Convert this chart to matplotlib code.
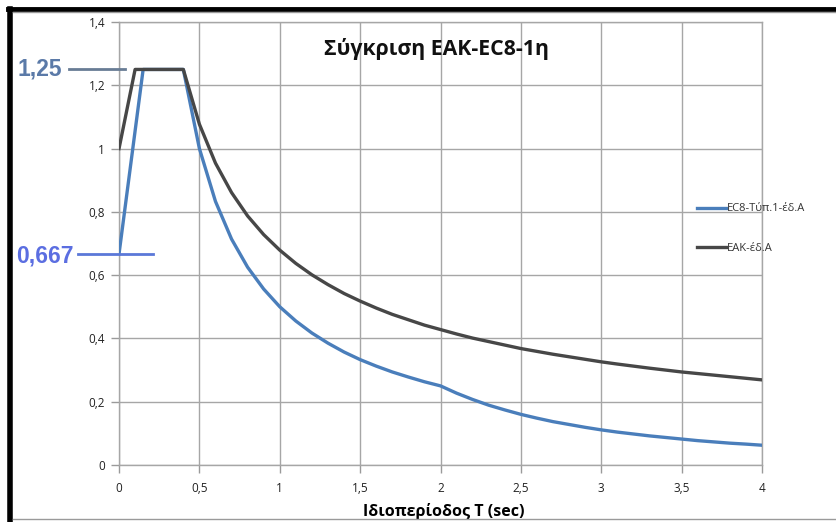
import matplotlib.pyplot as plt
from matplotlib.lines import Line2D

plt.rcParams['font.family'] = ['Open Sans', 'DejaVu Sans']

# Period T (sec)
T_eak = [0.0, 0.1, 0.4, 0.5, 0.6, 0.7, 0.8, 0.9, 1.0, 1.1, 1.2, 1.3, 1.4, 1.5,
         1.6, 1.7, 1.8, 1.9, 2.0, 2.1, 2.2, 2.3, 2.4, 2.5, 2.6, 2.7, 2.8,
         2.9, 3.0, 3.1, 3.2, 3.3, 3.4, 3.5, 3.6, 3.7, 3.8, 3.9, 4.0]
# ΕΑΚ ground A
S_eak = [1.0, 1.25, 1.25, 1.077, 0.954, 0.861, 0.787, 0.728, 0.679, 0.637,
         0.601, 0.570, 0.542, 0.518, 0.496, 0.476, 0.459, 0.442, 0.428,
         0.414, 0.401, 0.390, 0.379, 0.368, 0.359, 0.350, 0.342, 0.334,
         0.326, 0.319, 0.3125, 0.306, 0.300, 0.294, 0.289, 0.284, 0.279,
         0.274, 0.269]

T_ec8 = [0.0, 0.15, 0.4, 0.5, 0.6, 0.7, 0.8, 0.9, 1.0, 1.1, 1.2, 1.3, 1.4, 1.5,
         1.6, 1.7, 1.8, 1.9, 2.0, 2.1, 2.2, 2.3, 2.4, 2.5, 2.6, 2.7, 2.8,
         2.9, 3.0, 3.1, 3.2, 3.3, 3.4, 3.5, 3.6, 3.7, 3.8, 3.9, 4.0]
# EC8 type 1 ground A
S_ec8 = [0.667, 1.25, 1.25, 1.0, 0.833, 0.714, 0.625, 0.556, 0.5, 0.455,
         0.417, 0.385, 0.357, 0.333, 0.3125, 0.294, 0.278, 0.263, 0.25,
         0.227, 0.207, 0.189, 0.174, 0.16, 0.148, 0.137, 0.128, 0.119,
         0.111, 0.104, 0.098, 0.092, 0.087, 0.082, 0.077, 0.073, 0.069,
         0.066, 0.0625]

x_ticks = [0, 0.5, 1, 1.5, 2, 2.5, 3, 3.5, 4]
y_ticks = [0, 0.2, 0.4, 0.6, 0.8, 1.0, 1.2, 1.4]

plateau = 1.25
s0_ec8 = 0.667

fig = plt.figure(figsize=(8.37, 5.22), dpi=100)
ax = fig.add_axes([0.1422, 0.1092, 0.7682, 0.8487])

ax.plot(T_ec8, S_ec8, color='#4a7ebb', lw=2.4, label='EC8-Τύπ.1-έδ.Α', zorder=3)
ax.plot(T_eak, S_eak, color='#474747', lw=2.4, label='ΕΑΚ-έδ.Α', zorder=3)

ax.set_xlim(0, 4)
ax.set_ylim(0, 1.4)
ax.set_xticks(x_ticks)
ax.set_yticks(y_ticks)
fmt = lambda v: ('%g' % v).replace('.', ',')
ax.set_xticklabels([fmt(v) for v in x_ticks])
ax.set_yticklabels([fmt(v) for v in y_ticks])
ax.tick_params(axis='both', labelsize=8.5, colors='#9a9a9a', labelcolor='#222222',
               length=6, width=1)
ax.tick_params(axis='x', pad=6)
ax.tick_params(axis='y', pad=4)
ax.grid(True, color='#a6a6a6', lw=1)
for s in ax.spines.values():
    s.set_color('#a6a6a6')
    s.set_linewidth(1)

ax.set_xlabel('Ιδιοπερίοδος T (sec)', fontsize=11.5, fontweight='bold', labelpad=0)
ax.xaxis.set_label_coords(0.505, -0.085)
ax.text(0.494, 0.94, 'Σύγκριση ΕΑΚ-EC8-1η', transform=ax.transAxes, ha='center',
        va='center', fontsize=15.3, fontweight='bold', color='#111111')

# marker lines and values for the plateau and the T=0 ordinate
ax.plot([-0.31, 0.04], [plateau, plateau], color='#687c95', lw=2, clip_on=False, zorder=4)
ax.text(-0.355, plateau, fmt(plateau), ha='right', va='center', fontsize=16.5,
        fontweight='bold', color='#5b7aa8', family=['Liberation Sans', 'DejaVu Sans'])
ax.plot([-0.255, 0.21], [s0_ec8, s0_ec8], color='#5b78d8', lw=2, clip_on=False, zorder=4)
ax.text(-0.285, s0_ec8 - 0.008, fmt(s0_ec8), ha='right', va='center', fontsize=16.5,
        fontweight='bold', color='#5b6ee1', family=['Liberation Sans', 'DejaVu Sans'])

leg = ax.legend(loc='center left', bbox_to_anchor=(0.883, 0.533), frameon=False,
                fontsize=8, handlelength=2.6, handletextpad=0.1, labelspacing=2.6)
for t in leg.get_texts():
    t.set_color('#333333')

# outer frame
fig.add_artist(Line2D([0.0096, 1.0], [0.9837, 0.9837], color='black', lw=3.5,
                      transform=fig.transFigure))
fig.add_artist(Line2D([0.0125, 0.0125], [0.0, 0.9837], color='black', lw=4,
                      transform=fig.transFigure))
fig.add_artist(Line2D([0.015, 1.0], [0.977, 0.977], color='#9a9a9a', lw=1,
                      transform=fig.transFigure))
fig.add_artist(Line2D([0.015, 1.0], [0.0058, 0.0058], color='#9a9a9a', lw=1,
                      transform=fig.transFigure))

fig.savefig('out.png', dpi=100)
